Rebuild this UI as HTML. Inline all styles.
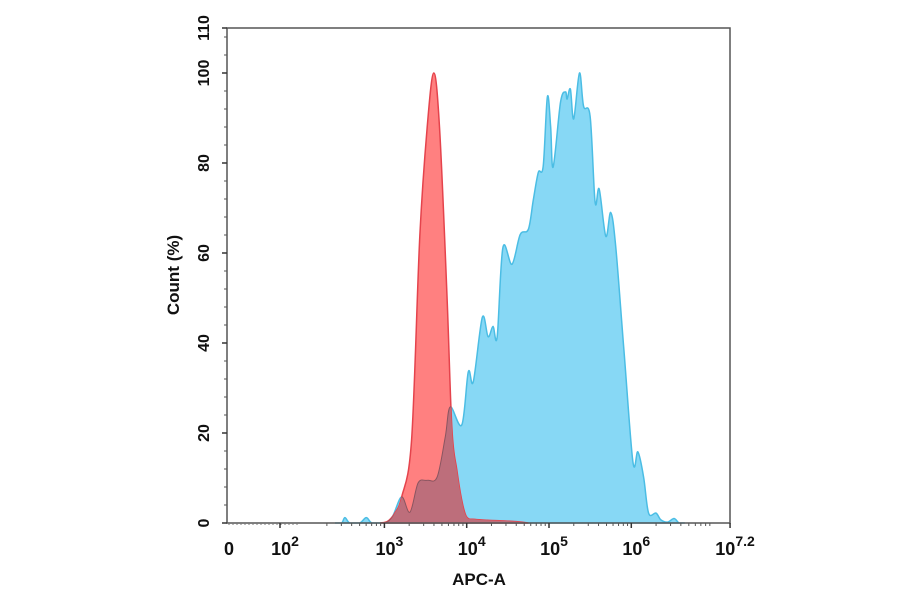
<!DOCTYPE html>
<html><head><meta charset="utf-8"><style>
body{margin:0;background:#fff;}
svg{display:block;font-family:"Liberation Sans",Arial,sans-serif;}
</style></head><body>
<svg id="chart" width="900" height="594">
<defs><clipPath id="redClip"><path id="redClipPath"/></clipPath></defs>
<g id="plot"></g>
<g id="axes"></g>
</svg>
<script>
// data: x in log10 exponents, y in Count (%)
const blueExp = [2.40,2.48,2.52,2.58,2.70,2.78,2.85,3.00,3.10,3.21,3.31,3.41,3.52,3.64,3.74,3.80,3.94,4.02,4.08,4.19,4.26,4.32,4.37,4.44,4.55,4.65,4.75,4.81,4.87,4.93,4.98,5.02,5.05,5.14,5.20,5.22,5.26,5.30,5.37,5.42,5.50,5.56,5.61,5.69,5.75,5.81,5.91,6.02,6.08,6.15,6.21,6.30,6.36,6.44,6.52,6.58,6.65];
const blueVal = [0,0,1.2,0,0,1.2,0,0,1.5,5.8,2.4,8.9,9.5,10.2,19.2,25.8,21.8,33.6,31.4,45.7,41.4,43.7,41.4,61.2,57.5,64.1,65.3,71.9,77.9,79.3,94.7,88.2,79.1,93.5,95.8,94.2,96.4,89.8,100,92.6,90.4,71.3,74.2,63.7,69.0,61.5,38.5,13.6,15.8,10.2,2.2,2.2,0.7,0.2,1.0,0,0];
const redExp = [2.95,3.04,3.12,3.21,3.33,3.43,3.52,3.60,3.67,3.76,3.82,3.88,3.94,4.00,4.10,4.25,4.40,4.60,4.75];
const redVal = [0,0.4,2,5.8,18.5,63.7,88,100,88,51,21,11.8,5,1.3,0.8,0.6,0.5,0.3,0];
const yTicks = [0,20,40,60,80,100,110];
const xTickExp = [3,4,5,6,7.2];
const xTickLabels = ["3","4","5","6","7.2"];

const L=227,R=730,T=28,B=523;
const xs=e=>466.7+(e-4)*82.3;
const ys=v=>B-v*4.5;
const NS="http://www.w3.org/2000/svg";
function mk(tag,attrs,parent){const el=document.createElementNS(NS,tag);for(const k in attrs)el.setAttribute(k,attrs[k]);parent.appendChild(el);return el;}
function areaPath(ex,vals){let d=`M${xs(ex[0]).toFixed(1)},${B}`;
 const p=ex.map((e,i)=>[xs(e),ys(vals[i])]);
 d+=` L${p[0][0].toFixed(1)},${p[0][1].toFixed(1)}`;
 for(let i=0;i<p.length-1;i++){const p0=p[i-1]||p[i],p1=p[i],p2=p[i+1],p3=p[i+2]||p2;
  const c1=[p1[0]+(p2[0]-p0[0])/6,p1[1]+(p2[1]-p0[1])/6],c2=[p2[0]-(p3[0]-p1[0])/6,p2[1]-(p3[1]-p1[1])/6];
  d+=` C${c1[0].toFixed(1)},${Math.min(B,c1[1]).toFixed(1)} ${c2[0].toFixed(1)},${Math.min(B,c2[1]).toFixed(1)} ${p2[0].toFixed(1)},${p2[1].toFixed(1)}`;}
 d+=` L${p[p.length-1][0].toFixed(1)},${B} Z`;return d;}
const plot=document.getElementById('plot');
const bd=areaPath(blueExp,blueVal), rd=areaPath(redExp,redVal);
document.getElementById('redClipPath').setAttribute('d',rd);
const blue=mk('path',{d:bd,fill:'#87d8f5',stroke:'#4bbde4','stroke-width':1.5},plot);


const red=mk('path',{d:rd,fill:'#ff8080',stroke:'#e5434c','stroke-width':1.5},plot);


const ov=mk('path',{d:bd,fill:'#bd6e7b',stroke:'#8a5560','stroke-width':1,'clip-path':'url(#redClip)'},plot);



const ax=document.getElementById('axes');
const frame=mk('rect',{x:L,y:T,width:R-L,height:B-T,fill:'none',stroke:'#555','stroke-width':1.5},ax);


for(let v=0;v<=110;v+=4){mk('line',{x1:L-3,x2:L,y1:ys(v),y2:ys(v),stroke:'#555'},ax);}
yTicks.forEach(v=>{mk('line',{x1:L-5,x2:L,y1:ys(v),y2:ys(v),stroke:'#333','stroke-width':1.5},ax);
 const t=mk('text',{x:0,y:0,transform:`translate(209,${ys(v)}) rotate(-90)`,'text-anchor':'middle','font-size':16,'font-weight':'bold',fill:'#111'},ax);
 t.textContent=v;
 
 });
const yt=mk('text',{transform:'translate(179,275) rotate(-90)','text-anchor':'middle','font-size':17,'font-weight':'bold',fill:'#111'},ax);
yt.textContent='Count (%)';


for(let d=2;d<7;d++)for(let m=2;m<10;m++){const x=xs(d+Math.log10(m));if(x>L&&x<R)mk('line',{x1:x,x2:x,y1:B,y2:B+3,stroke:'#555'},ax);}
for(let x=L+2;x<300;x+=4)mk('line',{x1:x,x2:x,y1:B,y2:B+2,stroke:'#777'},ax);
function xlabel(x,base,sup,name){const t=mk('text',{x:x,y:555,'text-anchor':'middle','font-size':18,'font-weight':'bold',fill:'#111'},ax);
 t.textContent=base;
 if(sup){const s=mk('tspan',{dy:-9,'font-size':14},t);s.textContent=sup;}
 
 }
mk('line',{x1:280,x2:280,y1:B,y2:B+5,stroke:'#333','stroke-width':1.5},ax);
xlabel(229,'0','', 'x-tick-label-0');
xlabel(285,'10','2','x-tick-label-1e2');
xTickExp.forEach((e,i)=>{mk('line',{x1:xs(e),x2:xs(e),y1:B,y2:B+5,stroke:'#333','stroke-width':1.5},ax);
 xlabel(xs(e)+5,'10',xTickLabels[i],'x-tick-label');});
const xt=mk('text',{x:479,y:585,'text-anchor':'middle','font-size':17,'font-weight':'bold',fill:'#111'},ax);
xt.textContent='APC-A';


</script>
</body></html>
